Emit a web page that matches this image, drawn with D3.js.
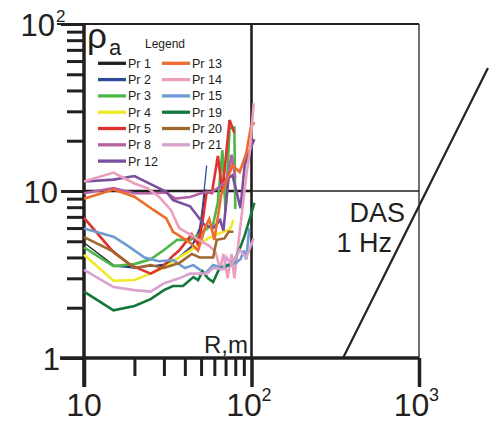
<!DOCTYPE html>
<html>
<head>
<meta charset="utf-8">
<script src="https://cdn.jsdelivr.net/npm/d3@7"></script>
<style>
  html, body { margin: 0; padding: 0; background: #ffffff; }
  svg { display: block; }
  text { font-family: "Liberation Sans", Arial, sans-serif; fill: #231f20; }
</style>
</head>
<body>
<svg id="chart" width="501" height="423"></svg>
<script>
// ---------------- DATA (R in m, apparent resistivity in ohm·m) ----------------
const seriesNames = ["Pr 1","Pr 2","Pr 3","Pr 4","Pr 5","Pr 8","Pr 12","Pr 13","Pr 14","Pr 15","Pr 19","Pr 20","Pr 21"];
const seriesColors = ["#231f20","#2b4c9b","#4cb748","#f1e827","#e1312e","#b562a3","#7c4f9e","#ed6b2b","#ec9ebe","#6d9cd3","#13773b","#a0672f","#d7a3cd"];

const pr1  = [[10,4.9],[15,3.6],[20,3.5],[25,3.55],[30,3.6],[36,3.9],[43,4.5],[48,5.4],[50,6.4],[53,10.2],[55,9.6]];
const pr2  = [[15,3.55],[20,3.45],[25,3.55],[30,3.65],[36,3.95],[44,4.7],[49,6.0],[51,8.1],[54,14.2]];
const pr3  = [[10,4.6],[15,3.55],[20,3.65],[25,3.9],[30,4.43],[36,5.1],[43,5.1],[46,5.3],[55,6.0],[59,6.3],[63,8.6],[67,17.5],[70,7.6],[74,23.7],[79,24],[80,7.8]];
const pr4  = [[10,4.15],[15,2.9],[20,2.93],[25,3.2],[30,3.46],[37,4.0],[43,4.4],[49,4.8],[55,5.2],[62,5.5],[71,5.8],[74,5.8],[78,6.7]];
const pr5  = [[10,6.9],[15,4.3],[19,3.6],[25,3.2],[29,3.46],[34,4.1],[37,4.4],[44,5.5],[48,4.8],[51,6.5],[54,9.9],[58,9.7],[63,16.2],[67,9.9],[74,26.6],[79,22.3]];
const pr8  = [[10,9.7],[15,10.4],[20,9.7],[25,9.7],[31,9.8],[35,9.0],[43,9.2],[50,9.7],[58,9.9],[65,10.6],[70,11.4],[73,13.0],[76,16.5],[80,12.0]];
const pr12 = [[10,11.4],[15,11.7],[20,12.3],[25,11.0],[31,9.9],[34,8.8],[43,8.1],[52,6.3],[59,6.0],[65,6.7],[68,5.8],[73,12.0],[77,12.4],[86,7.9],[91,14.3],[97,17.3],[104,20.4]];
const pr13 = [[10,9.0],[15,10.2],[20,9.25],[26,7.7],[31,6.85],[34,5.7],[37,5.4],[43,4.9],[48,4.4],[53,6.1],[56,6.8],[60,5.1],[66,9.5],[72,11.9],[77,14.2],[85,13.0],[93,16.8],[99,24],[104,25.8]];
const pr14 = [[10,11.4],[15,12.9],[20,11.1],[24,10.4],[28,9.25],[33,7.7],[37,6.0],[43,5.5],[50,5.0],[56,4.7],[61,4.3],[65,3.4],[68,4.2],[72,3.0],[76,4.2],[79,3.0],[83,4.6],[89,8.4],[93,12.3],[98,17.6],[103,33.6]];
const pr15 = [[10,5.97],[15,5.33],[18,4.74],[23,4.0],[28,3.8],[34,3.86],[40,3.46],[45,3.6],[53,3.2],[59,3.6],[65,3.5],[72,3.55],[80,3.7],[86,3.9],[90,4.4],[93,3.9],[97,6.0]];
const pr19 = [[10,2.5],[15,1.93],[20,2.05],[25,2.25],[30,2.55],[34,2.7],[39,2.7],[45,3.05],[48,2.93],[51,3.3],[55,3.0],[59,2.85],[64,3.4],[70,3.55],[78,3.75],[85,4.5],[91,5.4],[98,6.9],[104,8.5]];
const pr20 = [[10,5.3],[15,4.33],[20,3.46],[25,3.6],[30,3.46],[37,3.7],[44,4.2],[49,4.0],[59,4.0],[62,5.1],[69,5.2],[73,5.7],[78,5.7]];
const pr21 = [[10,3.37],[15,2.66],[20,2.55],[25,2.5],[30,2.8],[37,3.0],[43,3.2],[54,3.2],[59,3.46],[68,3.4],[71,4.0],[76,3.6],[85,4.43],[93,4.0],[103,5.2]];
const seriesData = [pr1,pr2,pr3,pr4,pr5,pr8,pr12,pr13,pr14,pr15,pr19,pr20,pr21];

// DAS 1 Hz line end points
const dasR   = [352, 2580];
const dasRho = [1, 54.5];

// Axis ticks
const xMajor = [10, 100, 1000];
const xMinor = [20, 30, 40, 50, 60, 70, 80, 90];
const yMajor = [1, 10, 100];
const yMinor = [2,3,4,5,6,7,8,9,20,30,40,50,60,70,80,90];
const xLabels = [["10",""],["10","2"],["10","3"]];
const yLabels = [["1",""],["10",""],["10","2"]];

// ---------------- DRAWING ----------------
const svg = d3.select("#chart");
const ink = "#231f20";
const x = d3.scaleLog().domain([10, 1000]).range([84, 419]);
const y = d3.scaleLog().domain([1, 100]).range([358, 24]);

function seg(x1, y1, x2, y2, w) {
  svg.append("line").attr("x1", x1).attr("y1", y1).attr("x2", x2).attr("y2", y2)
    .attr("stroke", ink).attr("stroke-width", w);
}
seg(x(100), y(100), x(100), y(1), 2.6);
seg(x(1000), y(100), x(1000), y(1), 1.3);
seg(57, y(100), x(1000), y(100), 2.2);
seg(x(10), y(10), x(100), y(10), 2.6);
seg(x(100), y(10), x(1000), y(10), 1.3);

const gx = svg.append("g").attr("transform", `translate(0,${y(1)})`);
gx.call(d3.axisBottom(x).tickValues(xMajor).tickSize(29).tickFormat(""));
const gxm = svg.append("g").attr("transform", `translate(0,${y(1)})`);
gxm.call(d3.axisBottom(x).tickValues(xMinor).tickSize(18).tickFormat(""));
const gy = svg.append("g").attr("transform", `translate(${x(10)},0)`);
gy.call(d3.axisLeft(y).tickValues(yMajor).tickSize(23).tickFormat(""));
const gym = svg.append("g").attr("transform", `translate(${x(10)},0)`);
gym.call(d3.axisLeft(y).tickValues(yMinor).tickSize(17).tickFormat(""));
[gx, gxm, gy, gym].forEach(g => {
  g.select(".domain").remove();
  g.selectAll(".tick line").attr("stroke", ink).attr("stroke-width", 3);
});
gx.selectAll(".tick line").attr("stroke-width", 3.5);

seg(60, y(1), x(1000), y(1), 3.5);
seg(x(10), y(100) - 1, x(10), 387, 3.5);

const line = d3.line().x(d => x(d[0])).y(d => y(d[1]));
seriesData.forEach((s, i) => {
  svg.append("path").datum(s).attr("d", line)
    .attr("fill", "none").attr("stroke", seriesColors[i])
    .attr("stroke-width", (i < 2) ? 1.3 : 2.6)
    .attr("stroke-linejoin", "miter").attr("stroke-miterlimit", 3);
});

svg.append("path").datum(d3.zip(dasR, dasRho)).attr("d", line)
  .attr("fill", "none").attr("stroke", ink).attr("stroke-width", 2.2);
svg.append("text").attr("x", 405).attr("y", 222).attr("text-anchor", "end")
  .attr("font-size", 27).text("DAS");
svg.append("text").attr("x", 392).attr("y", 252).attr("text-anchor", "end")
  .attr("font-size", 27).text("1 Hz");

xMajor.forEach((v, i) => {
  const [base, sup] = xLabels[i];
  svg.append("text").attr("x", x(v) - (sup ? 7.5 : 0)).attr("y", 416)
    .attr("text-anchor", "middle").attr("font-size", 32).text(base);
  if (sup) svg.append("text").attr("x", x(v) + 10).attr("y", 401)
    .attr("font-size", 18).text(sup);
});
yMajor.forEach((v, i) => {
  const [base, sup] = yLabels[i];
  const endX = sup ? 55 : (v === 1 ? 60 : 58);
  svg.append("text").attr("x", endX).attr("y", y(v) + 12)
    .attr("text-anchor", "end").attr("font-size", 31).text(base);
  if (sup) svg.append("text").attr("x", 56).attr("y", y(v) - 2)
    .attr("font-size", 17).text(sup);
});

svg.append("text").attr("x", 248).attr("y", 353).attr("text-anchor", "end")
  .attr("font-size", 24).text("R,m");
svg.append("text").attr("x", 87).attr("y", 48).attr("font-size", 35).text("ρ");
svg.append("text").attr("x", 109).attr("y", 55).attr("font-size", 22).text("a");

svg.append("text").attr("x", 145).attr("y", 48).attr("font-size", 12).text("Legend");
seriesNames.forEach((name, i) => {
  const col = i < 7 ? 0 : 1;
  const row = i < 7 ? i : i - 7;
  const cy = 63.3 + row * 16.3;
  const sx = col === 0 ? 98 : 162;
  svg.append("line").attr("x1", sx).attr("x2", sx + 28).attr("y1", cy).attr("y2", cy)
    .attr("stroke", seriesColors[i]).attr("stroke-width", 3.3);
  svg.append("text").attr("x", col === 0 ? 128 : 192).attr("y", cy + 4.5)
    .attr("font-size", 12.5).text(name);
});
</script>
</body>
</html>
